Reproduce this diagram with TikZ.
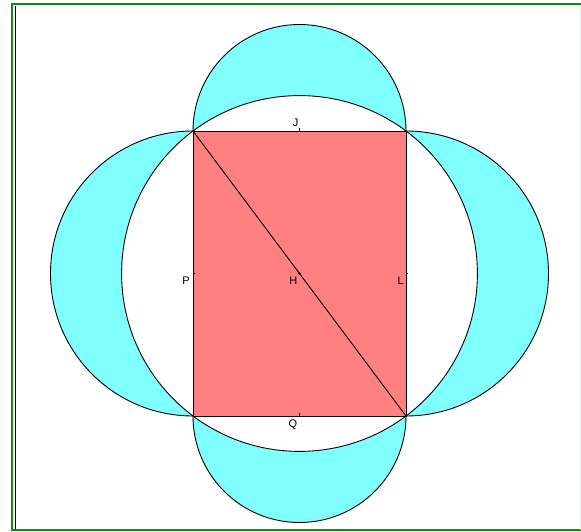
\documentclass[tikz,border=0pt]{standalone}
\usepackage{fontspec}
\setmainfont{Liberation Sans}
\definecolor{lune}{RGB}{128,255,255}
\definecolor{rect}{RGB}{255,128,128}
\definecolor{frame}{RGB}{20,135,20}
\tikzset{
  edge/.style={black, line width=0.9pt},
  lbl/.style={font=\fontsize{11}{13}\selectfont, inner sep=0pt},
  tick/.style={black, line width=0.9pt}
}
\begin{document}
\begin{tikzpicture}[x=1pt, y=1pt, line join=round]
\useasboundingbox (0,0) rectangle (581,532);
\fill[white] (0,0) rectangle (581,532);

% frame
\draw[frame, line width=2pt] (12,2) -- (12,527.5);
\draw[frame, line width=2pt] (11,527.5) -- (581,527.5);
\draw[frame, line width=2pt] (11,1.7) -- (581,1.7);
\draw[black, line width=1.2pt] (15.3,3) -- (15.3,526);
\draw[frame!12, line width=0.8pt] (580.5,2) -- (580.5,527);

% corners and midpoints
\coordinate (A) at (193,401);
\coordinate (B) at (406,401);
\coordinate (C) at (406,116);
\coordinate (D) at (193,116);
\coordinate (H) at (299.5,258.5);
\coordinate (J) at (299.5,401);
\coordinate (Q) at (299.5,116);
\coordinate (P) at (193,258.5);
\coordinate (L) at (406,258.5);

% lunes: side discs, then the big disc, then the rectangle
\fill[lune] (J) circle[radius=106.5];
\fill[lune] (Q) circle[radius=106.5];
\fill[lune] (P) circle[radius=142.5];
\fill[lune] (L) circle[radius=142.5];
\fill[white] (H) circle[radius=177.9];
\fill[rect] (A) rectangle (C);

% outlines
\draw[edge] (B) arc[start angle=0, end angle=180, radius=106.5];
\draw[edge] (C) arc[start angle=-90, end angle=90, radius=142.5];
\draw[edge] (D) arc[start angle=180, end angle=360, radius=106.5];
\draw[edge] (A) arc[start angle=90, end angle=270, radius=142.5];
\draw[edge] (H) circle[radius=177.9];
\draw[edge] (A) -- (B) -- (C) -- (D) -- cycle;
\draw[edge] (A) -- (C);

% points
\fill (H) circle[radius=1.5];
\draw[tick] (J) -- ++(0,3);
\draw[tick] (Q) -- ++(0,3);
\draw[tick] (P) -- ++(2,0);
\draw[tick] (L) -- ++(2,0);

% labels
\node[lbl, anchor=south east] (lJ) at ([xshift=-1pt, yshift=4pt]J) {J};
\node[lbl, anchor=north east] (lP) at ([xshift=-3pt, yshift=-3pt]P) {P};
\node[lbl, anchor=north east] (lH) at ([xshift=-2pt, yshift=-3pt]H) {H};
\node[lbl, anchor=north east] (lL) at ([xshift=-2pt, yshift=-3pt]L) {L};
\node[lbl, anchor=north east] (lQ) at ([xshift=-2pt, yshift=-4pt]Q) {Q};
\end{tikzpicture}
\end{document}
